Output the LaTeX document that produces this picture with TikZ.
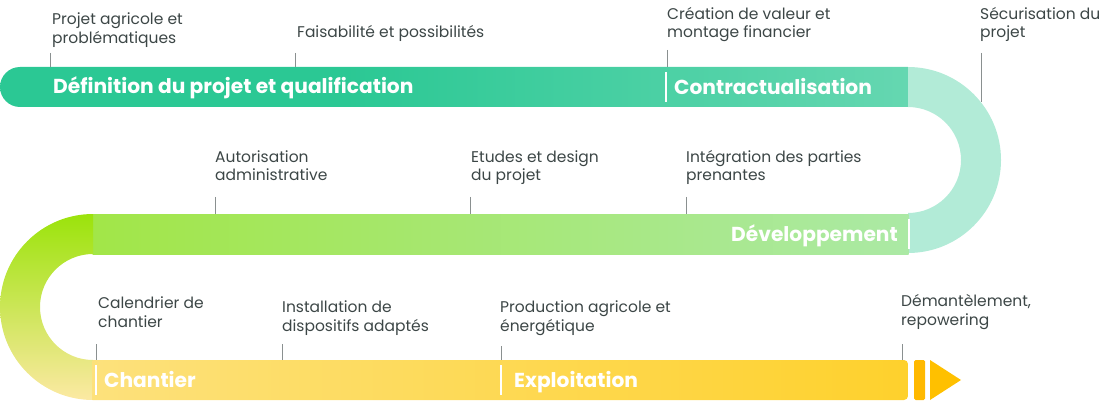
\documentclass[tikz,border=0pt]{standalone}
\usepackage{fontspec}
\setmainfont{Poppins}
\definecolor{txtc}{HTML}{3C4646}
\definecolor{tickc}{HTML}{8A9090}
\definecolor{cA}{HTML}{2BC894}
\definecolor{cB}{HTML}{94E3C8}
\definecolor{cC}{HTML}{B2EBD7}
\definecolor{mL}{HTML}{9BE30B}
\definecolor{mM}{HTML}{A2E648}
\definecolor{mN}{HTML}{ABE9A5}
\definecolor{yL}{HTML}{FCE9A3}
\definecolor{yR}{HTML}{FFC905}
\definecolor{yBar}{HTML}{FFB900}
\definecolor{yTri}{HTML}{FFC000}
\pgfdeclarehorizontalshading{topband}{100bp}{color(0bp)=(cA); color(44bp)=(cA); color(100bp)=(cB)}
\pgfdeclarehorizontalshading{midband}{100bp}{color(0bp)=(mL); color(25bp)=(mM); color(75bp)=(mN); color(100bp)=(cC)}
\pgfdeclarehorizontalshading{botband}{100bp}{color(0bp)=(yL); color(100bp)=(yR)}
\begin{document}
\begin{tikzpicture}[x=1pt,y=-1pt,
  lbl/.style={anchor=base west,inner sep=0pt,align=left,text=txtc,font=\fontsize{15.5}{18.5}\selectfont},
  bandlbl/.style={anchor=base west,inner sep=0pt,text=white,font=\fontsize{20.2}{22}\selectfont\bfseries},
  tick/.style={draw=tickc,line width=0.8pt},
  sep/.style={draw=white,line width=2.5pt}]
\useasboundingbox (0,0) rectangle (1113,406);
% top band
\shade[shading=topband] (908.5,67) {[rounded corners=20pt] -- (0,67) -- (0,107)} -- (908.5,107) -- cycle;
% right curve
\begin{scope}
\clip (908,50) rectangle (1020,270);
\fill[cC,even odd rule] (908,160) circle (93) (908,160) circle (53);
\end{scope}
% middle band
\shade[shading=midband] (92.5,214) rectangle (908.5,254);
% left curve
\begin{scope}
\clip (-10,200) rectangle (93,410);
\shade[top color=mL,bottom color=yL,even odd rule] (93,307) circle (93) (93,307) circle (53);
\end{scope}
% bottom band
\shade[shading=botband] (92.5,360) {[rounded corners=4pt] -- (908,360) -- (908,400)} -- (92.5,400) -- cycle;
\fill[yBar,rounded corners=1.5pt] (914,360) rectangle (925,400);
\fill[yTri] (930,360) -- (961,380) -- (930,400) -- cycle;
% separators
\coordinate (s1a) at (666,72); \coordinate (s1b) at (666,102);
\coordinate (s2a) at (909,219); \coordinate (s2b) at (909,249);
\coordinate (s3a) at (96,365); \coordinate (s3b) at (96,395);
\coordinate (s4a) at (501,365); \coordinate (s4b) at (501,395);
\draw[sep] (s1a) -- (s1b);
\draw[sep] (s2a) -- (s2b);
\draw[sep] (s3a) -- (s3b);
\draw[sep] (s4a) -- (s4b);
% band labels
\node[bandlbl] (b1) at (53,94) {Définition du projet et qualification};
\node[bandlbl] (b2) at (674,95) {Contractualisation};
\node[bandlbl,anchor=base east] (b3) at (898,241) {Développement};
\node[bandlbl] (b4) at (104,387) {Chantier};
\node[bandlbl] (b5) at (514,387) {Exploitation};
% step labels (anchor = baseline of last line)
\node[lbl] (l1) at (52,43.5) {Projet agricole et\\problématiques};
\node[lbl] (l2) at (297,38) {Faisabilité et possibilités};
\node[lbl] (l3) at (667,38) {Création de valeur et\\montage financier};
\node[lbl] (l4) at (980,38) {Sécurisation du\\projet};
\node[lbl] (l5) at (215,181) {Autorisation\\administrative};
\node[lbl] (l6) at (471,181) {Etudes et design\\du projet};
\node[lbl] (l7) at (686,181) {Intégration des parties\\prenantes};
\node[lbl] (l8) at (98,327) {Calendrier de\\chantier};
\node[lbl] (l9) at (282,331) {Installation de\\dispositifs adaptés};
\node[lbl] (l10) at (500,331) {Production agricole et\\énergétique};
\node[lbl] (l11) at (901,325) {Démantèlement,\\repowering};
% ticks
\coordinate (t1a) at (50,53); \coordinate (t1b) at (50,67);
\coordinate (t2a) at (295,53); \coordinate (t2b) at (295,67);
\coordinate (t3a) at (667,50); \coordinate (t3b) at (667,67);
\coordinate (t4a) at (981,53); \coordinate (t4b) at (981,102);
\coordinate (t5a) at (215,197); \coordinate (t5b) at (215,214);
\coordinate (t6a) at (470,197); \coordinate (t6b) at (470,214);
\coordinate (t7a) at (686,197); \coordinate (t7b) at (686,214);
\coordinate (t8a) at (96,344); \coordinate (t8b) at (96,360);
\coordinate (t9a) at (282,344); \coordinate (t9b) at (282,360);
\coordinate (t10a) at (501,346); \coordinate (t10b) at (501,360);
\coordinate (t11a) at (902,344); \coordinate (t11b) at (902,360);
\foreach \i in {1,...,11} {\draw[tick] (t\i a) -- (t\i b);}
\end{tikzpicture}
\end{document}
